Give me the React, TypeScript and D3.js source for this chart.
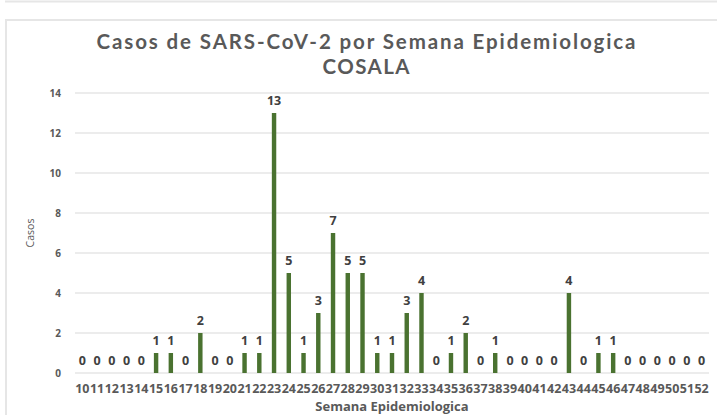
import { useRef, useEffect } from "react";
import * as d3 from "d3";

// semanas epidemiologicas 10..52
const semanas = [
  "10", "11", "12", "13", "14", "15", "16", "17", "18", "19", "20", "21", "22",
  "23", "24", "25", "26", "27", "28", "29", "30", "31", "32", "33", "34", "35",
  "36", "37", "38", "39", "40", "41", "42", "43", "44", "45", "46", "47", "48",
  "49", "50", "51", "52",
];
const casos = [
  0, 0, 0, 0, 0, 1, 1, 0, 2, 0, 0, 1, 1,
  13, 5, 1, 3, 7, 5, 5, 1, 1, 3, 4, 0, 1,
  2, 0, 1, 0, 0, 0, 0, 4, 0, 1, 1, 0, 0,
  0, 0, 0, 0,
];
const yTicks = [0, 2, 4, 6, 8, 10, 12, 14];

const App = () => {
  const svgRef = useRef<SVGSVGElement>(null);

  useEffect(() => {
    const width = 717;
    const height = 415;
    const svg = d3.select(svgRef.current);
    svg.selectAll("*").remove();

    const font = "'Open Sans', sans-serif";
    const gray = "#595959";

    // frames
    svg.append("line")
      .attr("x1", 5).attr("x2", width).attr("y1", 1.5).attr("y2", 1.5)
      .attr("stroke", "#e6e6e6").attr("stroke-width", 2);
    svg.append("rect")
      .attr("x", 6).attr("y", 20).attr("width", width + 10).attr("height", height)
      .attr("fill", "#fff").attr("stroke", "#e6e6e6").attr("stroke-width", 2);

    // scales
    const x = d3.scaleBand().domain(semanas).range([75, 709]).paddingInner(0.7).paddingOuter(0.35);
    const y = d3.scaleLinear().domain([0, 14]).range([373, 93]);

    // grid
    svg.append("g")
      .selectAll("line")
      .data(yTicks)
      .join("line")
      .attr("x1", 75).attr("x2", 709)
      .attr("y1", (d) => y(d)).attr("y2", (d) => y(d))
      .attr("stroke", "#d9d9d9").attr("stroke-width", 1);

    // y labels
    svg.append("g")
      .selectAll("text")
      .data(yTicks)
      .join("text")
      .attr("x", 61).attr("y", (d) => y(d) + 3.5)
      .attr("text-anchor", "end")
      .attr("font-family", font).attr("font-weight", "bold").attr("font-size", 10)
      .attr("fill", gray)
      .text((d) => d);

    // bars
    svg.append("g")
      .selectAll("rect")
      .data(casos)
      .join("rect")
      .attr("x", (d, i) => x(semanas[i]))
      .attr("width", x.bandwidth())
      .attr("y", (d) => y(d))
      .attr("height", (d) => y(0) - y(d))
      .attr("fill", "#4a7230");

    // data labels
    svg.append("g")
      .selectAll("text")
      .data(casos)
      .join("text")
      .attr("x", (d, i) => x(semanas[i]) + x.bandwidth() / 2)
      .attr("y", (d) => y(d) - 8)
      .attr("text-anchor", "middle")
      .attr("font-family", font).attr("font-weight", "bold").attr("font-size", 12.5)
      .attr("fill", "#404040")
      .text((d) => d);

    // x labels
    svg.append("g")
      .selectAll("text")
      .data(semanas)
      .join("text")
      .attr("x", (d) => x(d) + x.bandwidth() / 2)
      .attr("y", 393)
      .attr("text-anchor", "middle")
      .attr("font-family", font).attr("font-weight", "bold").attr("font-size", 12.5)
      .attr("fill", gray)
      .text((d) => d);

    // titles
    const titleFont = "Lato, 'Open Sans', sans-serif";
    svg.append("text")
      .attr("x", 366).attr("y", 48.5)
      .attr("text-anchor", "middle")
      .attr("font-family", titleFont).attr("font-weight", "bold").attr("font-size", 20.5)
      .attr("textLength", 539).attr("lengthAdjust", "spacing")
      .attr("fill", gray)
      .text("Casos de SARS-CoV-2 por Semana Epidemiologica");
    svg.append("text")
      .attr("x", 366).attr("y", 74)
      .attr("text-anchor", "middle")
      .attr("font-family", titleFont).attr("font-weight", "bold").attr("font-size", 20.5)
      .attr("textLength", 87).attr("lengthAdjust", "spacing")
      .attr("fill", gray)
      .text("COSALA");

    svg.append("text")
      .attr("x", 392).attr("y", 411)
      .attr("text-anchor", "middle")
      .attr("font-family", font).attr("font-weight", "bold").attr("font-size", 13)
      .attr("fill", gray)
      .text("Semana Epidemiologica");

    svg.append("text")
      .attr("transform", "translate(34,233) rotate(-90)")
      .attr("text-anchor", "middle")
      .attr("font-family", font).attr("font-size", 10.5)
      .attr("fill", gray)
      .text("Casos");
  }, []);

  return (
    <svg
      ref={svgRef}
      width={717}
      height={415}
      style={{ position: "absolute", left: 0, top: 0, background: "#fff" }}
    ></svg>
  );
};

export default App;
